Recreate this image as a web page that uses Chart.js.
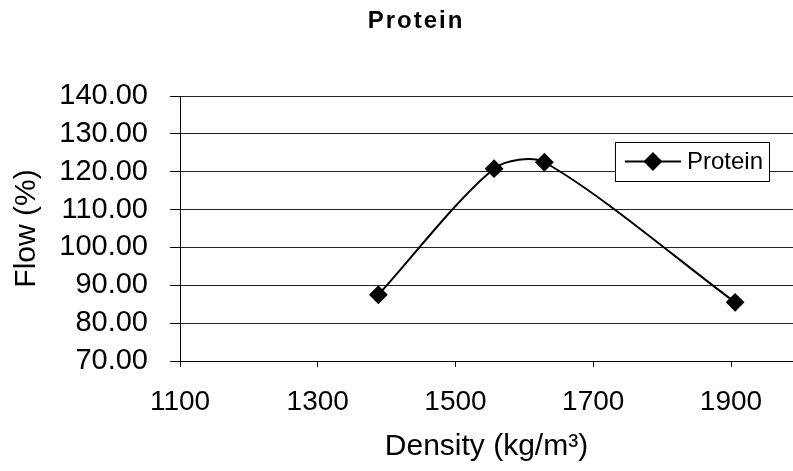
<!DOCTYPE html>
<html>
<head>
<meta charset="utf-8">
<script src="https://cdn.jsdelivr.net/npm/chart.js@4/dist/chart.umd.min.js"></script>
<style>
  html, body { margin: 0; padding: 0; background: #fff; }
  #wrap { width: 793px; height: 471px; }
</style>
</head>
<body>
<div id="wrap"><canvas id="chart" width="793" height="471"></canvas></div>
<script>
// values
const density = [1388, 1556, 1629, 1906]
const flow = [87.5, 120.8, 122.5, 85.5]
const xTicks = [1100, 1300, 1500, 1700, 1900]
const seriesName = 'Protein'
const chartTitle = 'Protein'

const FONT = "'Liberation Sans', Arial, sans-serif"

// title sits a bit right of centre in the scan, so draw it ourselves
const scanTitle = {
  id: 'scanTitle',
  afterDraw (chart) {
    const ctx = chart.ctx
    ctx.save()
    ctx.font = 'bold 24px ' + FONT
    if ('letterSpacing' in ctx) ctx.letterSpacing = '2px'
    ctx.fillStyle = '#000'
    ctx.textAlign = 'center'
    ctx.textBaseline = 'middle'
    ctx.fillText(chartTitle, 416, 21)
    ctx.restore()
  }
}

// legend box drawn inside the plot, like the original
const boxLegend = {
  id: 'boxLegend',
  afterDraw (chart) {
    const ctx = chart.ctx
    const area = chart.chartArea
    const ds = chart.data.datasets[0]
    const right = area.right - 24
    const top = area.top + 46
    const h = 39
    ctx.save()
    ctx.font = '24px ' + FONT
    const tw = ctx.measureText(ds.label).width
    const w = 10 + 56 + 6 + tw + 6
    const left = right - w
    ctx.fillStyle = '#fff'
    ctx.fillRect(left, top, w, h)
    ctx.strokeStyle = '#000'
    ctx.lineWidth = 1
    ctx.strokeRect(left + 0.5, top + 0.5, w, h)
    const cy = top + h / 2
    ctx.beginPath()
    ctx.moveTo(left + 10, cy)
    ctx.lineTo(left + 66, cy)
    ctx.lineWidth = 2
    ctx.stroke()
    Chart.helpers.drawPoint(ctx, {pointStyle: 'rectRot', radius: 8, borderWidth: 1}, left + 38, cy)
    ctx.fillStyle = '#000'
    ctx.fill()
    ctx.textBaseline = 'middle'
    ctx.fillText(ds.label, left + 72, cy + 1)
    ctx.restore()
  }
}

const chart = new Chart('chart', {
  type: 'line',
  data: {
    datasets: [{
      label: seriesName,
      data: density.map((d, i) => ({x: d, y: flow[i]})),
      borderColor: '#000',
      backgroundColor: '#000',
      borderWidth: 2,
      tension: 0.28,
      pointStyle: 'rectRot',
      pointRadius: 8,
      pointBackgroundColor: '#000',
      fill: false
    }]
  },
  options: {
    responsive: false,
    animation: false,
    layout: { autoPadding: false, padding: { left: 9, right: 0, top: 96, bottom: 6 } },
    plugins: {
      legend: { display: false },
      tooltip: { enabled: false },
      title: { display: false }
    },
    scales: {
      x: {
        type: 'linear',
        min: 1100,
        max: 1990,
        afterBuildTicks: (scale) => { scale.ticks = xTicks.map(v => ({value: v})) },
        afterFit: (scale) => {
          scale.height = 104
          scale.paddingRight = 0
        },
        ticks: {
          color: '#000',
          font: { family: FONT, size: 28 },
          padding: 18,
          maxRotation: 0,
          callback: (v) => String(v)
        },
        grid: { drawOnChartArea: false, tickLength: 6, tickColor: '#000' },
        border: { color: '#000', width: 1 },
        title: {
          display: true,
          text: 'Density (kg/m³)',
          color: '#000',
          font: { family: FONT, size: 30 },
          padding: { top: 0, bottom: 0 }
        }
      },
      y: {
        min: 70,
        max: 140,
        afterFit: (scale) => {
          scale.width = 171
          scale.paddingTop = 0
          scale.paddingBottom = 0
        },
        ticks: {
          stepSize: 10,
          autoSkip: false,
          color: '#000',
          font: { family: FONT, size: 29 },
          padding: 22,
          callback: (v) => v.toFixed(2)
        },
        grid: { color: '#222', lineWidth: 1, tickLength: 10, tickColor: '#000' },
        border: { color: '#000', width: 1 },
        title: {
          display: true,
          text: 'Flow (%)',
          color: '#000',
          font: { family: FONT, size: 30 },
          padding: { top: 0, bottom: 13 }
        }
      }
    }
  },
  plugins: [scanTitle, boxLegend]
})
</script>
</body>
</html>
